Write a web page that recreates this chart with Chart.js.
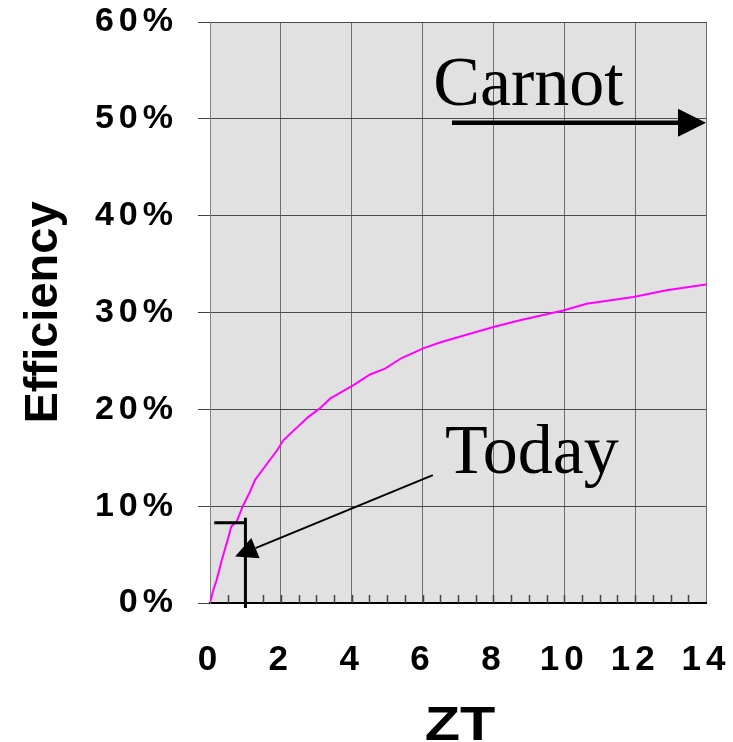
<!DOCTYPE html>
<html>
<head>
<meta charset="utf-8">
<script src="https://cdn.jsdelivr.net/npm/chart.js@4.4.1/dist/chart.umd.min.js"></script>
<style>
  body { margin: 0; background: #fff; }
  canvas { display: block; }
</style>
</head>
<body>
<canvas id="effChart" width="733" height="742"></canvas>
<script>
// efficiency vs ZT
const zt = [
  0, 0.09, 0.19, 0.33, 0.52, 0.6, 0.75, 0.94, 1.13, 1.27, 1.9, 2.07, 2.77,
  3.1, 3.39, 4.05, 4.52, 4.94, 5.41, 6.02, 6.49, 7.24, 8.0, 8.75, 9.97,
  10.63, 11.95, 12.89, 14.0,
];
const efficiency = [
  0, 1.3, 2.4, 4.4, 6.8, 7.9, 8.4, 10.1, 11.5, 12.7, 15.8, 16.8, 19.2,
  20.1, 21.1, 22.5, 23.6, 24.2, 25.3, 26.3, 26.9, 27.7, 28.5, 29.2, 30.2,
  30.9, 31.6, 32.3, 32.9,
];

const xRange = [0, 14];
const yRange = [0, 60];

// annotations, in data units (ZT, %)
const carnotLabel = { text: "Carnot", at: [6.3, 51.4] };
const carnotArrow = { from: [6.83, 49.6], to: [14, 49.6] };
const todayLabel = { text: "Today", at: [6.63, 13.4] };
const todayArrow = { from: [6.29, 13.2], to: [0.71, 4.8] };
const todayMark = { zt: 1.0, eff: 8.3, from: 0.12 };

function arrow(ctx, x1, y1, x2, y2, w, len, half) {
  const a = Math.atan2(y2 - y1, x2 - x1);
  const bx = x2 - len * Math.cos(a);
  const by = y2 - len * Math.sin(a);
  ctx.lineWidth = w;
  ctx.beginPath();
  ctx.moveTo(x1, y1);
  ctx.lineTo(bx, by);
  ctx.stroke();
  ctx.beginPath();
  ctx.moveTo(x2, y2);
  ctx.lineTo(bx + half * Math.sin(a), by - half * Math.cos(a));
  ctx.lineTo(bx - half * Math.sin(a), by + half * Math.cos(a));
  ctx.closePath();
  ctx.fill();
}

// keep the plot box where the layout padding puts it
function noScalePadding(scale) {
  scale.paddingTop = 0;
  scale.paddingBottom = 0;
  scale.paddingLeft = 0;
  scale.paddingRight = 0;
}

const plotDecor = {
  id: "plotDecor",
  beforeDraw(chart) {
    const { ctx, chartArea: { left, top, width, height } } = chart;
    ctx.save();
    ctx.fillStyle = "#e1e1e1";
    ctx.fillRect(left, top, width, height);
    ctx.restore();
    // tick labels in the picture are spaced out a bit
    ctx.letterSpacing = "5px";
  },
  beforeDatasetsDraw(chart) {
    const { ctx, chartArea: { bottom }, scales: { x } } = chart;
    ctx.letterSpacing = "0px";
    // small inward ticks every 0.5 on the ZT axis
    ctx.save();
    ctx.strokeStyle = "#444";
    ctx.lineWidth = 1.5;
    for (let v = xRange[0] + 0.5; v < xRange[1]; v += 0.5) {
      const px = Math.round(x.getPixelForValue(v)) + 0.5;
      ctx.beginPath();
      ctx.moveTo(px, bottom);
      ctx.lineTo(px, bottom - 8);
      ctx.stroke();
    }
    ctx.restore();
  },
  afterDraw(chart) {
    const { ctx, chartArea, scales: { x, y } } = chart;
    const px = (v) => x.getPixelForValue(v);
    const py = (v) => y.getPixelForValue(v);
    ctx.save();
    ctx.strokeStyle = "#000";
    ctx.fillStyle = "#000";

    // "today" bracket at ZT = 1
    ctx.lineWidth = 3;
    ctx.beginPath();
    ctx.moveTo(px(todayMark.from), py(todayMark.eff));
    ctx.lineTo(px(todayMark.zt), py(todayMark.eff));
    ctx.moveTo(px(todayMark.zt), py(todayMark.eff) - 5);
    ctx.lineTo(px(todayMark.zt), chartArea.bottom + 5);
    ctx.stroke();

    arrow(ctx, px(todayArrow.from[0]), py(todayArrow.from[1]),
      px(todayArrow.to[0]), py(todayArrow.to[1]), 2, 22, 11);
    arrow(ctx, px(carnotArrow.from[0]), py(carnotArrow.from[1]),
      px(carnotArrow.to[0]), py(carnotArrow.to[1]), 4.5, 28, 14);

    ctx.font = "70px 'Liberation Serif', 'Times New Roman', serif";
    ctx.textAlign = "left";
    ctx.textBaseline = "alphabetic";
    ctx.fillText(carnotLabel.text, px(carnotLabel.at[0]), py(carnotLabel.at[1]));
    ctx.fillText(todayLabel.text, px(todayLabel.at[0]), py(todayLabel.at[1]));

    // axis titles
    ctx.font = "bold 49px 'Liberation Sans', Arial, sans-serif";
    ctx.textAlign = "center";
    ctx.save();
    ctx.translate((chartArea.left + chartArea.right) / 2 + 2, 740);
    ctx.scale(1.18, 1);
    ctx.fillText("ZT", 0, 0);
    ctx.restore();
    ctx.font = "bold 47px 'Liberation Sans', Arial, sans-serif";
    ctx.translate(57, (chartArea.top + chartArea.bottom) / 2);
    ctx.rotate(-Math.PI / 2);
    ctx.fillText("Efficiency", 0, 0);
    ctx.restore();
  },
};

new Chart(document.getElementById("effChart"), {
  type: "line",
  data: {
    datasets: [
      {
        label: "Efficiency",
        data: zt.map((v, i) => ({ x: v, y: efficiency[i] })),
        borderColor: "#ff00ff",
        borderWidth: 2,
        pointRadius: 0,
        tension: 0,
        fill: false,
      },
    ],
  },
  options: {
    responsive: false,
    animation: false,
    devicePixelRatio: 1,
    layout: { padding: { top: 22, right: 27, bottom: 0, left: 0 } },
    plugins: {
      legend: { display: false },
      tooltip: { enabled: false },
    },
    scales: {
      x: {
        type: "linear",
        min: xRange[0],
        max: xRange[1],
        afterFit(scale) {
          scale.height = 139;
          noScalePadding(scale);
        },
        ticks: {
          stepSize: 2,
          padding: 36,
          color: "#000",
          maxRotation: 0,
          font: { family: "'Liberation Sans', Arial, sans-serif", size: 35, weight: "bold" },
        },
        grid: { color: "#6e6e6e", lineWidth: 1, drawTicks: false },
        border: { color: "#000", width: 2 },
      },
      y: {
        min: yRange[0],
        max: yRange[1],
        afterFit(scale) {
          scale.width = 210;
          noScalePadding(scale);
        },
        ticks: {
          stepSize: 10,
          padding: 20,
          color: "#000",
          callback: (v) => v + "%",
          font: { family: "'Liberation Sans', Arial, sans-serif", size: 34, weight: "bold" },
        },
        grid: { color: "#4a4a4a", lineWidth: 1, tickLength: 12, tickColor: "#444" },
        border: { color: "#808080", width: 1 },
      },
    },
  },
  plugins: [plotDecor],
});
</script>
</body>
</html>
